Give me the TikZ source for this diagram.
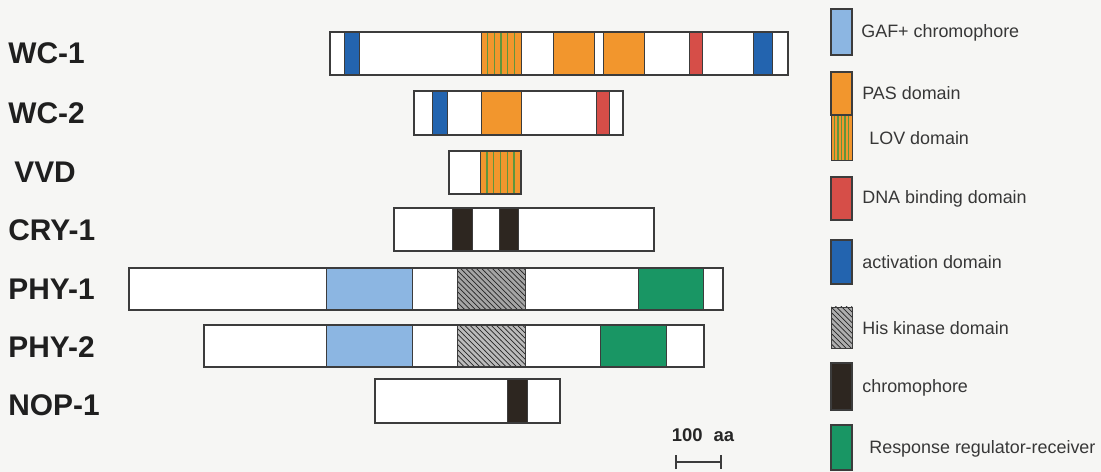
\documentclass[tikz,border=0pt]{standalone}
\usepackage{fontspec}
\setmainfont{Liberation Sans}
\usepackage{tikz}
\usetikzlibrary{patterns, arrows.meta}
\definecolor{bgpaper}{RGB}{246, 246, 244}
\definecolor{gafblue}{RGB}{140, 182, 226}
\definecolor{pasorange}{RGB}{242, 150, 45}
\definecolor{lovgreen}{RGB}{95, 150, 60}
\definecolor{dnared}{RGB}{214, 78, 72}
\definecolor{actblue}{RGB}{35, 100, 175}
\definecolor{hisgray}{RGB}{165, 165, 165}
\definecolor{chrombrown}{RGB}{45, 38, 32}
\definecolor{rrgreen}{RGB}{25, 150, 100}
\definecolor{edgegray}{RGB}{60, 60, 60}
\definecolor{legtext}{RGB}{55, 55, 55}

\begin{document}
\begin{tikzpicture}[x=0.02cm, y=-0.02cm,
    bar/.style={fill=white, draw=edgegray, line width=0.8pt},
    dom/.style={draw=edgegray, line width=0.4pt},
    protlabel/.style={anchor=west, font=\bfseries\fontsize{17}{17}\selectfont, text=black!88, inner sep=0pt},
    legentry/.style={anchor=west, font=\fontsize{10.2}{11}\selectfont, text=legtext, inner sep=0pt},
    swatch/.style={draw=edgegray, line width=0.6pt}]
  % paper
  \fill[bgpaper] (0,0) rectangle (1101,472);
  % LOV stripes
  \newcommand{\lovbox}[4]{%
    \fill[pasorange, dom] (#1,#2) rectangle (#3,#4);
    \foreach \s in {1,...,5}
      \draw[lovgreen, line width=0.8pt] ({#1+(#3-#1)*\s/6},#2) -- ({#1+(#3-#1)*\s/6},#4);
    \draw[dom] (#1,#2) rectangle (#3,#4);}
  \newcommand{\hisbox}[5]{%
    \fill[hisgray!#5!white] (#1,#2) rectangle (#3,#4);
    \fill[pattern=north west lines, pattern color=black!85] (#1,#2) rectangle (#3,#4);
    \draw[dom] (#1,#2) rectangle (#3,#4);}

  % WC-1
  \node[protlabel] (wc1) at (8,53) {WC-1};
  \draw[bar] (330,32) rectangle (788,75);
  \fill[actblue, dom] (344,32) rectangle (359,75);
  \lovbox{481}{32}{521}{75}
  \fill[pasorange, dom] (553,32) rectangle (594,75);
  \fill[pasorange, dom] (603,32) rectangle (644,75);
  \fill[dnared, dom] (689,32) rectangle (702,75);
  \fill[actblue, dom] (753,32) rectangle (772,75);
  \draw[bar, fill=none] (330,32) rectangle (788,75);
  % WC-2
  \node[protlabel] (wc2) at (8,113) {WC-2};
  \draw[bar] (414,91) rectangle (623,135);
  \fill[actblue, dom] (432,91) rectangle (447,135);
  \fill[pasorange, dom] (481,91) rectangle (521,135);
  \fill[dnared, dom] (596,91) rectangle (609,135);
  \draw[bar, fill=none] (414,91) rectangle (623,135);
  % VVD
  \node[protlabel] (vvd) at (14,172) {VVD};
  \draw[bar] (449,151) rectangle (521,194);
  \lovbox{480}{151}{521}{194}
  \draw[bar, fill=none] (449,151) rectangle (521,194);
  % CRY-1
  \node[protlabel] (cry1) at (8,230) {CRY-1};
  \draw[bar] (394,208) rectangle (654,251);
  \fill[chrombrown, dom] (452,208) rectangle (472,251);
  \fill[chrombrown, dom] (499,208) rectangle (518,251);
  \draw[bar, fill=none] (394,208) rectangle (654,251);
  % PHY-1
  \node[protlabel] (phy1) at (8,289) {PHY-1};
  \draw[bar] (129,268) rectangle (723,310);
  \fill[gafblue, dom] (326,268) rectangle (412,310);
  \hisbox{457}{268}{525}{310}{100}
  \fill[rrgreen, dom] (638,268) rectangle (703,310);
  \draw[bar, fill=none] (129,268) rectangle (723,310);
  % PHY-2
  \node[protlabel] (phy2) at (8,347) {PHY-2};
  \draw[bar] (204,325) rectangle (704,367);
  \fill[gafblue, dom] (326,325) rectangle (412,367);
  \hisbox{457}{325}{525}{367}{75}
  \fill[rrgreen, dom] (600,325) rectangle (666,367);
  \draw[bar, fill=none] (204,325) rectangle (704,367);
  % NOP-1
  \node[protlabel] (nop1) at (8,405) {NOP-1};
  \draw[bar] (375,379) rectangle (560,423);
  \fill[chrombrown, dom] (507,379) rectangle (527,423);
  \draw[bar, fill=none] (375,379) rectangle (560,423);

  % scale
  \node[font=\bfseries\fontsize{10.5}{11}\selectfont, text=black!85, inner sep=0pt] (scale) at (703,435) {100\hspace{0.6em}aa};
  \coordinate (sa) at (675,462);
  \coordinate (sb) at (722,462);
  \draw[line width=1pt, edgegray, {Bar[width=8pt]}-{Bar[width=8pt]}] (sa) -- (sb);

  % legend
  \fill[gafblue, swatch] (831,9) rectangle (852,55);
  \node[legentry] (lgaf) at (861,33) {GAF+ chromophore};
  \fill[pasorange, swatch] (831,72) rectangle (852,115);
  \node[legentry] (lpas) at (862,93) {PAS domain};
  \lovbox{831}{115}{852}{160}
  \node[legentry] (llov) at (869,138) {LOV domain};
  \fill[dnared, swatch] (831,177) rectangle (852,220);
  \node[legentry] (ldna) at (862,199) {DNA binding domain};
  \fill[actblue, swatch] (831,240) rectangle (852,284);
  \node[legentry] (lact) at (862,262) {activation domain};
  \hisbox{831}{307}{852}{348}{90}
  \node[legentry] (lhis) at (862,328) {His kinase domain};
  \fill[chrombrown, swatch] (831,363) rectangle (852,410);
  \node[legentry] (lchr) at (862,388) {chromophore};
  \fill[rrgreen, swatch] (831,425) rectangle (852,470);
  \node[legentry] (lrr) at (869,449) {Response regulator-receiver};
\end{tikzpicture}
\end{document}
